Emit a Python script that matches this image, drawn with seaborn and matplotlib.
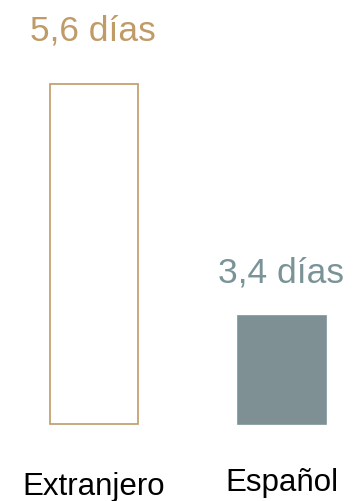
import pandas as pd
import matplotlib
matplotlib.use("Agg")
import matplotlib.pyplot as plt
import seaborn as sns

# datos
categorias = ["Extranjero", "Español"]
dias = [5.6, 3.4]
etiquetas = ["5,6 días", "3,4 días"]
y_base = 2.38  # origen del eje de valores en el gráfico original

sns.set_style("white")
plt.rcParams['font.family'] = ['Liberation Sans', 'DejaVu Sans']

col_tan = "#BF9B67"
col_gris = "#7A9397"

df = pd.DataFrame({"origen": categorias, "dias": dias})

fig = plt.figure(figsize=(3.57, 5.02), dpi=100)
ax = fig.add_axes([0, 77 / 502, 1, 425 / 502])

sns.barplot(data=df, x="origen", y="dias", hue="origen",
            palette=["white", col_gris], width=0.47, legend=False, ax=ax)

# bordes y base de las barras
bordes = [col_tan, col_gris]
for p, c in zip(ax.patches, bordes):
    p.set_y(y_base)
    p.set_height(p.get_height() - y_base)
    p.set_edgecolor(c)
    p.set_linewidth(1.2)
    p.set_clip_on(False)

ax.set_xlim(-0.5, 1.399)
ax.set_ylim(y_base, 6.406)
ax.axis("off")

# etiquetas de valor
gap_val = [32.4, 25.4]
col_val = [col_tan, col_gris]
for i, (v, t) in enumerate(zip(dias, etiquetas)):
    ax.annotate(t, xy=(i, v), xytext=(-1, gap_val[i]), textcoords="offset points",
                ha="center", va="baseline", fontsize=25.5, color=col_val[i],
                annotation_clip=False)

# etiquetas de categoria
gap_cat = [-50.6, -47.2]
for i, c in enumerate(categorias):
    ax.annotate(c, xy=(i, y_base), xytext=(0, gap_cat[i]), textcoords="offset points",
                ha="center", va="baseline", fontsize=22.5, color="black",
                annotation_clip=False)

plt.savefig("out.png", dpi=100)
